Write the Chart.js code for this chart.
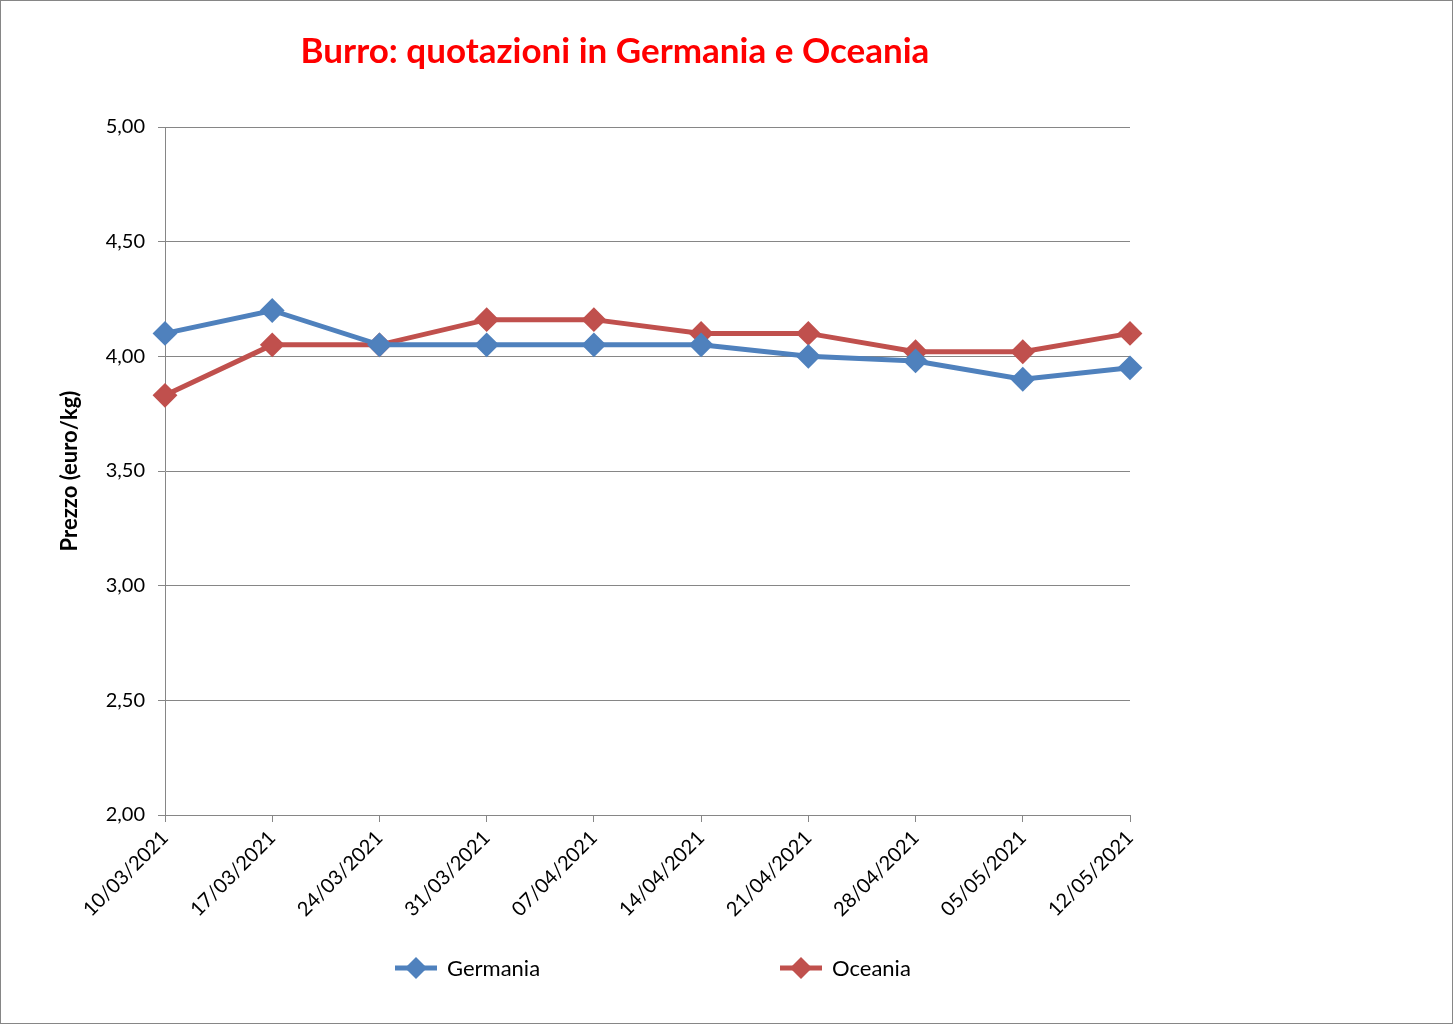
<!DOCTYPE html>
<html><head><meta charset="utf-8">
<script src="https://cdn.jsdelivr.net/npm/chart.js@4"></script>
<style>html,body{margin:0;padding:0;background:#fff}canvas{display:block}</style>
</head><body>
<canvas id="c" width="1453" height="1024"></canvas>
<script>
const categories = ["10/03/2021","17/03/2021","24/03/2021","31/03/2021","07/04/2021","14/04/2021","21/04/2021","28/04/2021","05/05/2021","12/05/2021"];
const germania = [4.10,4.20,4.05,4.05,4.05,4.05,4.00,3.98,3.90,3.95];
const oceania  = [3.83,4.05,4.05,4.16,4.16,4.10,4.10,4.02,4.02,4.10];
const seriesNames = ["Germania","Oceania"];
const yTicks = [2.00,2.50,3.00,3.50,4.00,4.50,5.00];
const titleText = "Burro: quotazioni in Germania e Oceania";
const yTitle = "Prezzo (euro/kg)";

const BLUE = "#4F81BD", RED = "#C0504D", GRID = "#868686";
const FONT = "Lato, 'Open Sans', sans-serif";

const decor = {
  id: 'decor',
  afterDraw(chart) {
    const ctx = chart.ctx;
    ctx.save();
    ctx.strokeStyle = GRID; ctx.lineWidth = 1;
    ctx.strokeRect(0.5, 0.5, chart.width - 1, chart.height - 1);
    ctx.fillStyle = "#FF0000";
    ctx.font = "bold 35px " + FONT;
    ctx.textAlign = "center"; ctx.textBaseline = "middle";
    ctx.fillText(titleText, 615, 52);
    const pos = [395, 780];
    const y = 968;
    chart.data.datasets.forEach((ds, i) => {
      const x = pos[i];
      ctx.strokeStyle = ds.borderColor; ctx.lineWidth = 5;
      ctx.beginPath(); ctx.moveTo(x, y); ctx.lineTo(x + 42, y); ctx.stroke();
      ctx.fillStyle = ds.borderColor;
      ctx.beginPath();
      const cx = x + 21, r = 11;
      ctx.moveTo(cx, y - r); ctx.lineTo(cx + r, y); ctx.lineTo(cx, y + r); ctx.lineTo(cx - r, y); ctx.closePath();
      ctx.fill();
      ctx.fillStyle = "#000"; ctx.font = "22px " + FONT;
      ctx.textAlign = "left"; ctx.textBaseline = "middle";
      ctx.fillText(ds.label, x + 52, y + 1);
    });
    ctx.restore();
  }
};

new Chart(document.getElementById('c'), {
  type: 'line',
  data: {
    labels: categories,
    datasets: [
      { label: seriesNames[0], data: germania, borderColor: BLUE, backgroundColor: BLUE,
        borderWidth: 5, pointStyle: 'rectRot', pointRadius: 11, pointBorderWidth: 2,
        pointBackgroundColor: BLUE, pointBorderColor: BLUE, tension: 0 },
      { label: seriesNames[1], data: oceania, borderColor: RED, backgroundColor: RED,
        borderWidth: 5, pointStyle: 'rectRot', pointRadius: 11, pointBorderWidth: 2,
        pointBackgroundColor: RED, pointBorderColor: RED, tension: 0 }
    ]
  },
  options: {
    responsive: false,
    animation: false,
    layout: { padding: { left: 55, right: 323, top: 127, bottom: 95 } },
    plugins: { legend: { display: false }, title: { display: false }, tooltip: { enabled: false } },
    scales: {
      x: {
        offset: false,
        grid: { drawOnChartArea: false, drawTicks: true, tickLength: 7, color: GRID, lineWidth: 1 },
        border: { display: true, color: GRID, width: 1 },
        ticks: { autoSkip: false, maxRotation: 45, minRotation: 45, padding: 4, color: "#000",
                 font: { family: FONT, size: 20 } },
        afterFit(s) { s.height = 114; }
      },
      y: {
        min: 2, max: 5,
        afterBuildTicks(s) { s.ticks = yTicks.map(v => ({ value: v })); },
        grid: { color: GRID, lineWidth: 1, drawTicks: true, tickLength: 7 },
        border: { display: true, color: GRID, width: 1 },
        ticks: { padding: 13, color: "#000", font: { family: FONT, size: 20 },
                 callback: v => v.toFixed(2).replace('.', ',') },
        title: { display: true, text: yTitle, color: "#000", font: { family: FONT, size: 22, weight: 'bold' },
                 padding: { top: 2, bottom: 0 } },
        afterFit(s) { s.width = 110; }
      }
    }
  },
  plugins: [decor]
});
</script>
</body></html>
